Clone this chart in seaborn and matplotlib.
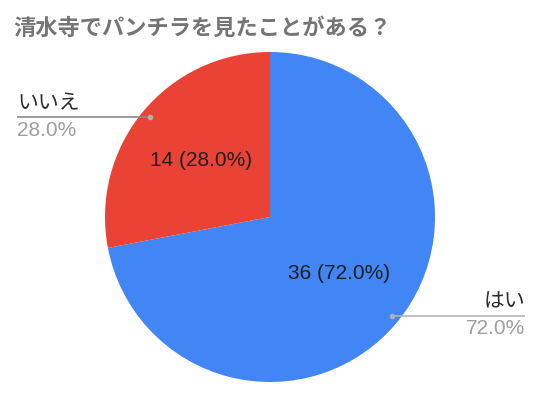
import matplotlib
matplotlib.use("Agg")
import matplotlib.pyplot as plt
import seaborn as sns

# Data
title = "清水寺でパンチラを見たことがある？"
categories = ["はい", "いいえ"]
values = [36, 14]
colors = ["#4285F4", "#EA4335"]

sns.set_theme(style="white")
plt.rcParams["font.family"] = ["Liberation Sans", "Noto Sans CJK JP", "DejaVu Sans"]

W, H = 540, 395
fig = plt.figure(figsize=(W / 100, H / 100), dpi=100)
ax = fig.add_axes([0, 0, 1, 1])

total = sum(values)
cx, cy, r = 270, H - 217, 165

wedges, texts, autotexts = ax.pie(
    values,
    colors=colors,
    startangle=90,
    counterclock=False,
    center=(cx, cy),
    radius=r,
    autopct=lambda p: f"{round(p * total / 100):d} ({p:.1f}%)",
    pctdistance=0.54,
    wedgeprops=dict(linewidth=0),
    textprops=dict(fontsize=15, color="#1f1f1f"),
    frame=True,
)
ax.set_xlim(0, W)
ax.set_ylim(0, H)
ax.set_aspect("equal")
ax.axis("off")

fig.text(13 / W, 1 - 28 / H, title, fontsize=16, fontweight="bold", color="#757575",
         family=["Noto Sans CJK JP", "DejaVu Sans"], ha="left", va="center")

# External labels with leader lines
pcts = [v / total * 100 for v in values]
# いいえ (left)
ax.plot([17, 150], [H - 117, H - 117], color="#8a8a8a", lw=1.2, solid_capstyle="butt")
ax.plot([150], [H - 117], "o", color="#b0b0b0", ms=3)
ax.text(17, H - 104, categories[1], fontsize=15, color="#2b2b2b", ha="left", va="center")
ax.text(17, H - 130, f"{pcts[1]:.1f}%", fontsize=15, color="#9e9e9e", ha="left", va="center")
# はい (right)
ax.plot([392, 525], [H - 316, H - 316], color="#b5b5b5", lw=1.2, solid_capstyle="butt")
ax.plot([392], [H - 316], "o", color="#b0b0b0", ms=3)
ax.text(525, H - 302, categories[0], fontsize=15, color="#2b2b2b", ha="right", va="center")
ax.text(525, H - 328, f"{pcts[0]:.1f}%", fontsize=15, color="#9e9e9e", ha="right", va="center")

fig.savefig("out.png", dpi=100, facecolor="white")
